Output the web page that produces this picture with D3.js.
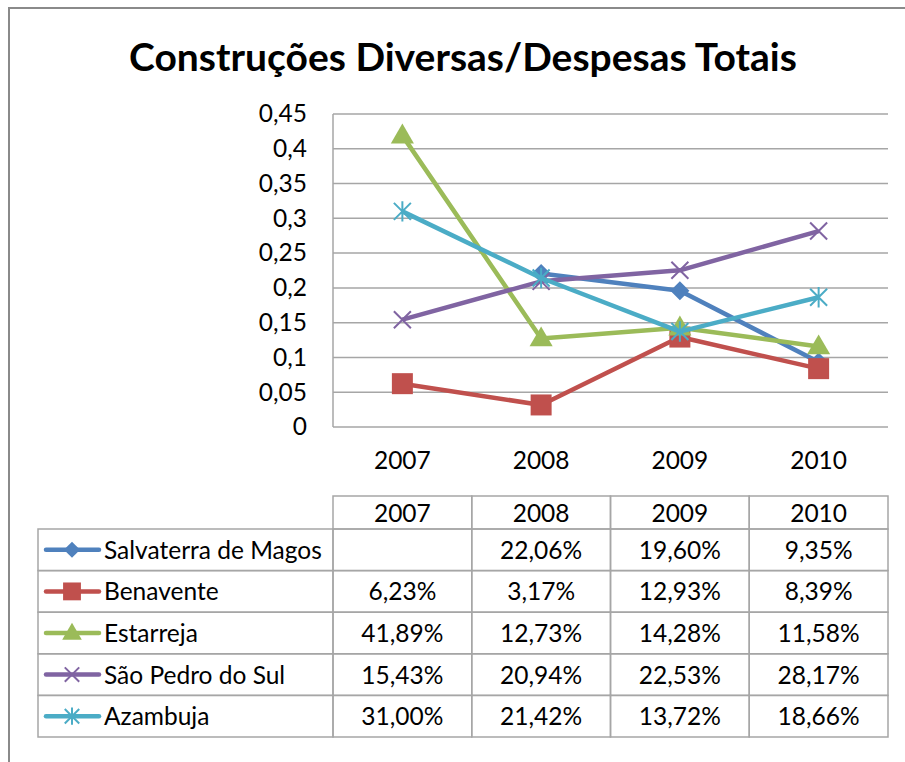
<!DOCTYPE html>
<html>
<head>
<meta charset="utf-8">
<script src="https://cdn.jsdelivr.net/npm/d3@7"></script>
<style>
  body { margin: 0; background: #fff; }
  text { font-family: Lato, "Open Sans", sans-serif; fill: #000; }
</style>
</head>
<body>
<div id="chart-container"></div>
<script>
const years = ['2007', '2008', '2009', '2010'];
const seriesNames = ['Salvaterra de Magos', 'Benavente', 'Estarreja', 'São Pedro do Sul', 'Azambuja'];
const salvaterra = [null, 0.2206, 0.1960, 0.0935];
const benavente = [0.0623, 0.0317, 0.1293, 0.0839];
const estarreja = [0.4189, 0.1273, 0.1428, 0.1158];
const saoPedro = [0.1543, 0.2094, 0.2253, 0.2817];
const azambuja = [0.3100, 0.2142, 0.1372, 0.1866];
const yTicks = [0, 0.05, 0.1, 0.15, 0.2, 0.25, 0.3, 0.35, 0.4, 0.45];

const colors = ['#4F81BD', '#C0504D', '#9BBB59', '#8064A2', '#4BACC6'];
const markers = ['diamond', 'square', 'triangle', 'x', 'star'];
const allSeries = [salvaterra, benavente, estarreja, saoPedro, azambuja];

const width = 905, height = 762;
const plot = { left: 333, right: 888, top: 114, bottom: 427 };
const fontSize = '24.5px';

const svg = d3.select('#chart-container')
  .append('svg')
  .attr('width', width)
  .attr('height', height);

// outer chart frame (right/bottom edges fall outside the picture)
svg.append('path')
  .attr('d', `M9,${height + 5}V8H${width + 5}`)
  .attr('fill', 'none')
  .attr('stroke', '#8a8a8a')
  .attr('stroke-width', 2);

svg.append('text')
  .attr('x', 463)
  .attr('y', 71)
  .attr('text-anchor', 'middle')
  .style('font-size', '39px')
  .style('font-weight', 'bold')
  .text('Construções Diversas/Despesas Totais');

const x = d3.scaleBand().domain(years).range([plot.left, plot.right]);
const y = d3.scaleLinear().domain([0, 0.45]).range([plot.bottom, plot.top]);

// gridlines
svg.append('g')
  .selectAll('line')
  .data(yTicks)
  .enter()
  .append('line')
  .attr('x1', plot.left)
  .attr('x2', plot.right)
  .attr('y1', (d) => y(d))
  .attr('y2', (d) => y(d))
  .attr('stroke', '#a6a6a6')
  .attr('stroke-width', 1.5);

svg.append('line')
  .attr('x1', plot.left).attr('x2', plot.left)
  .attr('y1', plot.top).attr('y2', plot.bottom)
  .attr('stroke', '#a6a6a6')
  .attr('stroke-width', 1.5);

const fmtTick = (d) => String(d).replace('.', ',');

const yAxis = svg.append('g')
  .attr('transform', `translate(${plot.left},0)`)
  .call(d3.axisLeft(y).tickValues(yTicks).tickFormat(fmtTick).tickSize(0).tickPadding(26));
yAxis.select('.domain').remove();
yAxis.selectAll('text')
  .style('font-size', fontSize)
  .style('font-family', 'Lato, sans-serif')
  .attr('fill', '#000');

const xAxis = svg.append('g')
  .attr('transform', `translate(0,${plot.bottom})`)
  .call(d3.axisBottom(x).tickSize(0).tickPadding(25));
xAxis.select('.domain').remove();
xAxis.selectAll('text')
  .style('font-size', fontSize)
  .style('font-family', 'Lato, sans-serif')
  .attr('fill', '#000');

function markerPath(type, s) {
  if (type === 'diamond') return `M0,${-s}L${s},0L0,${s}L${-s},0Z`;
  if (type === 'square') return `M${-s},${-s}H${s}V${s}H${-s}Z`;
  if (type === 'triangle') return `M0,${-s * 1.15}L${s * 1.1},${s * 0.75}H${-s * 1.1}Z`;
  if (type === 'x') return `M${-s},${-s}L${s},${s}M${-s},${s}L${s},${-s}`;
  return `M${-s},${-s}L${s},${s}M${-s},${s}L${s},${-s}M0,${-s * 1.2}V${s * 1.2}`;
}
const markerSize = { diamond: 9.5, square: 10.5, triangle: 10.5, x: 8.5, star: 8.5 };

function drawMarker(g, type, color, cx, cy, scale) {
  const s = markerSize[type] * scale;
  const open = type === 'x' || type === 'star';
  g.append('path')
    .attr('d', markerPath(type, s))
    .attr('transform', `translate(${cx},${cy})`)
    .attr('fill', open ? 'none' : color)
    .attr('stroke', color)
    .attr('stroke-width', open ? 2 : 0);
}

const line = d3.line()
  .defined((d) => d.v !== null)
  .x((d) => x(d.year) + x.bandwidth() / 2)
  .y((d) => y(d.v));

allSeries.forEach((vals, i) => {
  const pts = years.map((year, j) => ({ year, v: vals[j] }));
  const g = svg.append('g');
  g.append('path')
    .datum(pts)
    .attr('d', line)
    .attr('fill', 'none')
    .attr('stroke', colors[i])
    .attr('stroke-width', 4.5)
    .attr('stroke-linejoin', 'round');
  pts.filter((d) => d.v !== null).forEach((d) => {
    drawMarker(g, markers[i], colors[i], x(d.year) + x.bandwidth() / 2, y(d.v), 1);
  });
});

// data table
const table = { left: 38, top: 496, headerH: 33, rowH: 41.6 };
const tableStroke = '#a6a6a6';
const tg = svg.append('g');
const fmtPct = (v) => (v === null ? '' : (v * 100).toFixed(2).replace('.', ',') + '%');

// header cells
years.forEach((year) => {
  tg.append('rect')
    .attr('x', x(year)).attr('y', table.top)
    .attr('width', x.bandwidth()).attr('height', table.headerH)
    .attr('fill', 'none').attr('stroke', tableStroke).attr('stroke-width', 1.5);
  tg.append('text')
    .attr('x', x(year) + x.bandwidth() / 2)
    .attr('y', table.top + table.headerH / 2 + 9)
    .attr('text-anchor', 'middle')
    .style('font-size', fontSize)
    .text(year);
});

seriesNames.forEach((name, i) => {
  const top = table.top + table.headerH + i * table.rowH;
  tg.append('rect')
    .attr('x', table.left).attr('y', top)
    .attr('width', plot.left - table.left).attr('height', table.rowH)
    .attr('fill', 'none').attr('stroke', tableStroke).attr('stroke-width', 1.5);
  const cy = top + table.rowH / 2;
  tg.append('line')
    .attr('x1', 46).attr('x2', 99)
    .attr('y1', cy).attr('y2', cy)
    .attr('stroke', colors[i]).attr('stroke-width', 4.5)
    .attr('stroke-linecap', 'round');
  drawMarker(tg, markers[i], colors[i], 72, cy, 0.85);
  tg.append('text')
    .attr('x', 104)
    .attr('y', cy + 9)
    .style('font-size', fontSize)
    .text(name);
  years.forEach((year, j) => {
    tg.append('rect')
      .attr('x', x(year)).attr('y', top)
      .attr('width', x.bandwidth()).attr('height', table.rowH)
      .attr('fill', 'none').attr('stroke', tableStroke).attr('stroke-width', 1.5);
    tg.append('text')
      .attr('x', x(year) + x.bandwidth() / 2)
      .attr('y', cy + 9)
      .attr('text-anchor', 'middle')
      .style('font-size', fontSize)
      .text(fmtPct(allSeries[i][j]));
  });
});
</script>
</body>
</html>
